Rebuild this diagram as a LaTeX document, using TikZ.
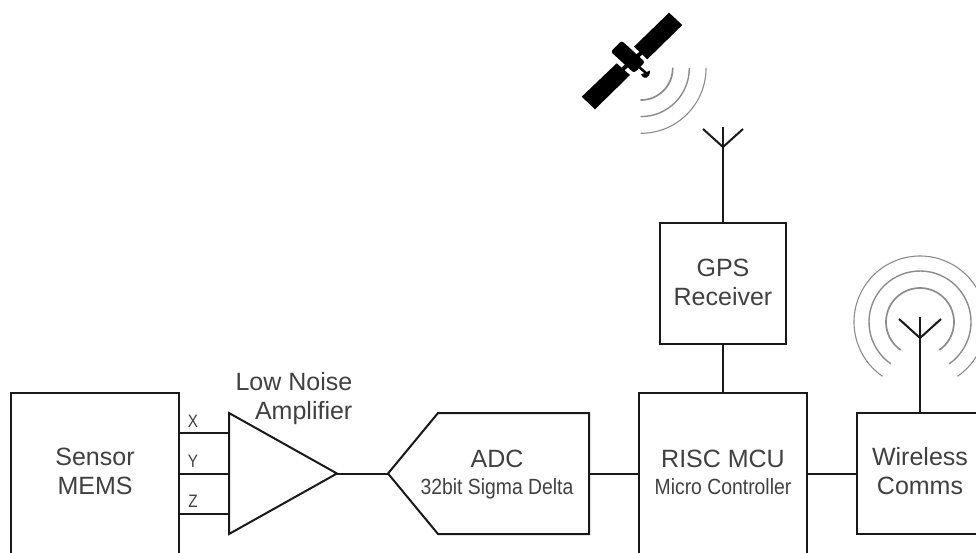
\documentclass[tikz,border=0pt]{standalone}
\usepackage{fontspec}
\setmainfont{Liberation Sans}
\usepackage{xcolor}
\usetikzlibrary{positioning}
\definecolor{labelgrey}{HTML}{404040}
\definecolor{wavegrey}{HTML}{8C8C8C}
\tikzset{
    wire/.style={line width=2pt, black!90},
    unit/.style={draw=black!90, line width=2pt, inner sep=0pt, align=center, text=labelgrey, font=\fontsize{25}{29}\selectfont},
    plain/.style={inner sep=0pt, align=center, text=labelgrey, font=\fontsize{25}{29}\selectfont},
    small/.style={inner sep=0pt, anchor=base, text=labelgrey, font=\fontsize{22}{26}\selectfont, xscale=0.88},
    axis/.style={inner sep=0pt, anchor=base, text=labelgrey, font=\fontsize{18}{20}\selectfont, xscale=0.85},
    wave/.style={draw=wavegrey, line cap=round},
}
\begin{document}
\begin{tikzpicture}[x=1pt, y=1pt]
    \useasboundingbox (0, -552) rectangle (976, 0);
    \clip (0, -552) rectangle (976, 0);

    % blocks
    \node[unit, minimum width=168pt, minimum height=170pt] (sensor) at (95, -478) {};
    \node[plain] (sensortext) at (95, -471.5) {Sensor\\MEMS};
    \node[unit, minimum width=168pt, minimum height=170pt] (mcu) at (723, -478) {};
    \node[plain, anchor=base] (mcutext) at (723, -467) {RISC MCU};
    \node[small] (mcusub) at (723, -494) {Micro Controller};
    \node[unit, minimum width=133pt, minimum height=121pt] (comms) at (923.5, -473.5) {};
    \node[plain] (commstext) at (920, -471.5) {Wireless\\Comms};
    \node[unit, minimum width=126pt, minimum height=121pt] (gps) at (723, -283.5) {};
    \node[plain] (gpstext) at (723, -282) {GPS\\Receiver};

    % amplifier
    \coordinate (amptop) at (229, -413);
    \coordinate (ampbot) at (229, -534);
    \coordinate (amptip) at (337, -473.5);
    \draw[wire, line join=miter] (amptop) -- (amptip) -- (ampbot) -- cycle;
    \coordinate (ampx) at (229, -433);
    \coordinate (ampy) at (229, -473.5);
    \coordinate (ampz) at (229, -514);
    \draw[wire] (sensor.east |- ampx) -- (ampx);
    \draw[wire] (sensor.east |- ampy) -- (ampy);
    \draw[wire] (sensor.east |- ampz) -- (ampz);
    \node[axis] (xlabel) at (193, -427) {X};
    \node[axis] (ylabel) at (193, -467) {Y};
    \node[axis] (zlabel) at (193, -507) {Z};
    \node[plain, align=right, anchor=north east] (amplabel) at (352.5, -372) {Low Noise\\Amplifier};

    % ADC
    \coordinate (adctip) at (388, -473.5);
    \coordinate (adcright) at (589, -473.5);
    \draw[wire] (adctip) -- (438, -413) -- (589, -413) -- (589, -534) -- (438, -534) -- cycle;
    \node[plain, anchor=base] (adctext) at (497, -467) {ADC};
    \node[small] (adcsub) at (497, -494) {32bit Sigma Delta};

    % connectors
    \draw[wire] (amptip) -- (adctip);
    \draw[wire] (adcright) -- (mcu.west |- adcright);
    \draw[wire] (mcu.east |- adcright) -- (comms.west |- adcright);
    \draw[wire] (gps.south) -- (gps.south |- mcu.north);

    % gps antenna
    \coordinate (gpsfork) at (723, -147);
    \coordinate (gpstop) at (723, -127);
    \draw[wire] (gps.north) -- (gpstop);
    \draw[wire] (703, -129) -- (gpsfork) -- (743, -129);

    % comms antenna
    \coordinate (commsfork) at (920, -338);
    \coordinate (commstop) at (920, -317);
    \draw[wire] (commsfork |- comms.north) -- (commstop);
    \draw[wire] (899, -319) -- (commsfork) -- (941, -319);
    \draw[wave, line width=1.7pt] (920, -322) ++(235:34) arc (235:-55:34);
    \draw[wave, line width=1.4pt] (920, -322) ++(235:51) arc (235:-55:51);
    \draw[wave, line width=1.1pt] (920, -322) ++(235:66) arc (235:-55:66);

    % satellite
    \fill[black] (669, -12.7) -- (682.3, -25) -- (647.3, -59.3) -- (634, -46.7) -- cycle;
    \fill[black] (581.7, -96.7) -- (595, -109.3) -- (630, -75) -- (616.7, -63.3) -- cycle;
    \fill[black, rounded corners=2.5pt] (610.7, -51.7) -- (621.7, -40.7) -- (645, -62) -- (634, -73) -- cycle;
    \draw[black, line width=4pt] (623, -69) -- (641, -53);
    \draw[black, line width=2.5pt] (639, -67) -- (646, -73);
    \fill[black] (641, -74.5) .. controls (643, -80) and (650, -79) .. (650, -70.5) -- cycle;
    \draw[wave, line width=1.7pt] (641, -68.3) ++(0:31.7) arc (0:-90:31.7);
    \draw[wave, line width=1.4pt] (641, -68.3) ++(0:48.3) arc (0:-90:48.3);
    \draw[wave, line width=1.1pt] (641, -68.3) ++(0:65) arc (0:-90:65);
\end{tikzpicture}
\end{document}
